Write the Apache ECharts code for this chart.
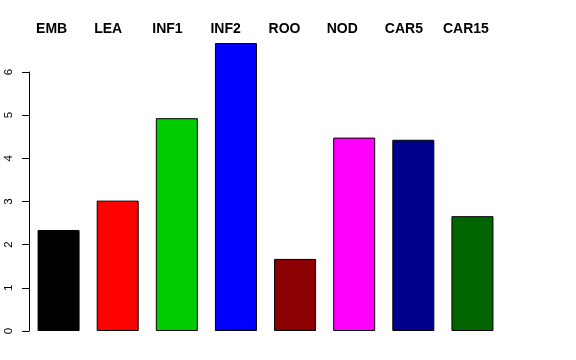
<!DOCTYPE html>
<html><head><meta charset="utf-8">
<script src="https://cdn.jsdelivr.net/npm/echarts@6/dist/echarts.min.js"></script>
<style>html,body{margin:0;padding:0;background:#fff}#c{width:576px;height:360px}</style>
</head><body><div id="c"></div>
<script>
var categories = ['EMB','LEA','INF1','INF2','ROO','NOD','CAR5','CAR15'];
var values = [2.34, 3.02, 4.93, 6.67, 1.67, 4.48, 4.43, 2.66];
var barColors = ['#000000','#FF0000','#00CD00','#0000FF','#8B0000','#FF00FF','#00008B','#006400'];
var yTicks = [0,1,2,3,4,5,6];

var chart = echarts.init(document.getElementById('c'), null, {renderer:'canvas'});
chart.setOption({
  animation:false,
  backgroundColor:'#ffffff',
  grid:[
    {left:29, top:72, width:473, height:259, containLabel:false},
    {left:7, top:40, width:465, height:1, containLabel:false}
  ],
  xAxis:[
    {type:'category', data:categories, gridIndex:0, show:false},
    {type:'category', data:categories, gridIndex:1, position:'top',
     axisLine:{show:false}, axisTick:{show:false},
     axisLabel:{align:'left', verticalAlign:'middle', margin:11, interval:0,
       fontFamily:'Liberation Sans, Arial, sans-serif', fontWeight:'bold', fontSize:14, color:'#000'}}
  ],
  yAxis:[
    {type:'value', gridIndex:0, min:0, max:6, interval:1,
     axisLine:{show:true, lineStyle:{color:'#000', width:1}},
     axisTick:{show:true, length:7, lineStyle:{color:'#000'}},
     splitLine:{show:false},
     axisLabel:{rotate:90, margin:20, fontFamily:'Liberation Sans, Arial, sans-serif', fontSize:11.5, color:'#000',
       verticalAlign:'middle', align:'center',
       formatter:function(v){return yTicks.indexOf(v)>=0?String(v):'';}}},
    {type:'value', gridIndex:1, show:false}
  ],
  series:[{
    type:'bar', xAxisIndex:0, yAxisIndex:0, barWidth:42, clip:false,
    data: values.map(function(v,i){return {value:v, itemStyle:{color:barColors[i]}};}),
    itemStyle:{borderColor:'#000', borderWidth:1}
  }]
});
</script></body></html>
